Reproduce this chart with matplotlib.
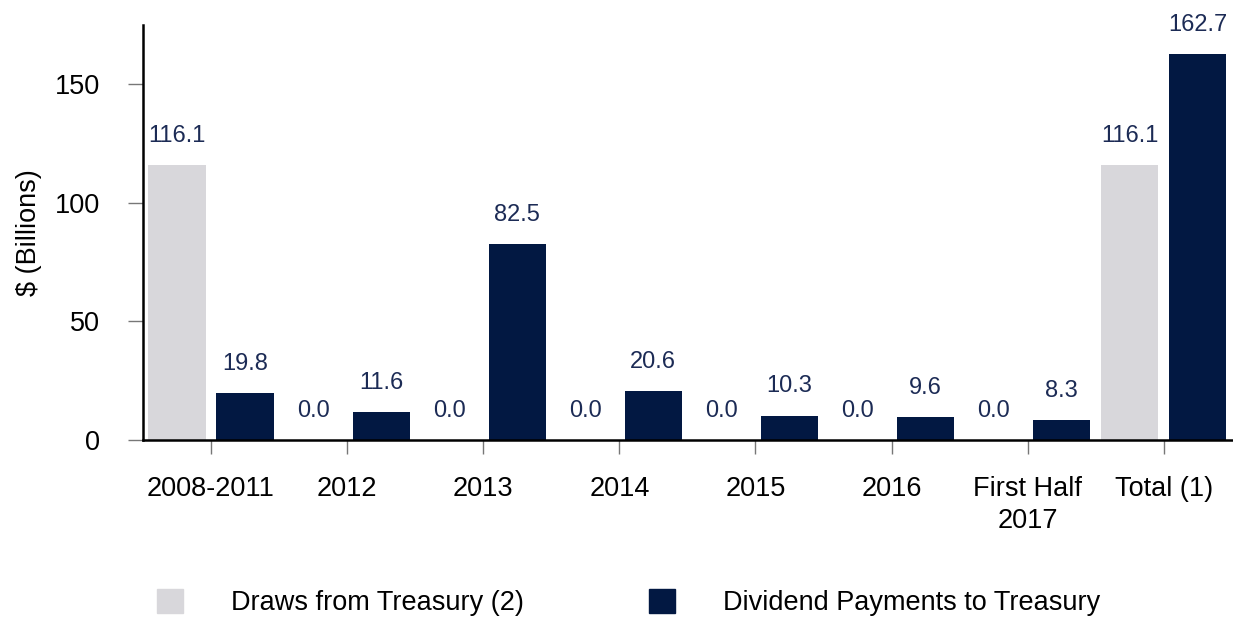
import numpy as np
import matplotlib
matplotlib.use("Agg")
import matplotlib.pyplot as plt
from matplotlib.patches import Patch

categories = ["2008-2011", "2012", "2013", "2014", "2015", "2016", "First Half\n2017", "Total (1)"]
draws = [116.1, 0.0, 0.0, 0.0, 0.0, 0.0, 0.0, 116.1]
dividends = [19.8, 11.6, 82.5, 20.6, 10.3, 9.6, 8.3, 162.7]
legend_labels = ["Draws from Treasury (2)", "Dividend Payments to Treasury"]

gray = "#d8d7db"
navy = "#021842"
label_color = "#1c2b55"

plt.rcParams["font.family"] = ["Liberation Sans", "DejaVu Sans"]

fig = plt.figure(figsize=(12.33, 6.18), dpi=100)
ax = fig.add_axes([143 / 1233, 1 - 440 / 618, 1 - 143 / 1233 - 0.001, (440 - 25) / 618])

x = np.arange(len(categories))
w = 0.42
off = 0.25
b1 = ax.bar(x - off, draws, w, color=gray)
b2 = ax.bar(x + off, dividends, w, color=navy)

for bars, vals in ((b1, draws), (b2, dividends)):
    for rect, v in zip(bars, vals):
        ax.annotate(f"{v:.1f}", (rect.get_x() + rect.get_width() / 2, v),
                    xytext=(0, 21), textcoords="offset points",
                    ha="center", va="center", fontsize=17, color=label_color)

ax.set_xlim(-0.5, len(categories) - 0.5)
ax.set_ylim(0, 175)
ax.set_yticks([0, 50, 100, 150])
ax.set_xticks(x)
ax.set_xticklabels(categories, fontsize=19.5, linespacing=1.3)
ax.tick_params(axis="y", labelsize=19.5, length=11, width=1, color="#777777", pad=20)
ax.tick_params(axis="x", length=10, width=1, color="#777777", pad=16)
ax.set_ylabel("$ (Billions)", fontsize=19.5, labelpad=9)

for s in ("top", "right"):
    ax.spines[s].set_visible(False)
for s in ("left", "bottom"):
    ax.spines[s].set_linewidth(1.8)
    ax.spines[s].set_color("black")

handles = [Patch(color=gray), Patch(color=navy)]
fig.legend(handles, legend_labels, loc="lower left", bbox_to_anchor=(157 / 1233, 0.003),
           ncol=2, frameon=False, fontsize=19.5, handlelength=0.95, handleheight=0.95,
           handletextpad=1.8, columnspacing=4.6, borderpad=0, borderaxespad=0)

fig.savefig("out.png", dpi=100)
